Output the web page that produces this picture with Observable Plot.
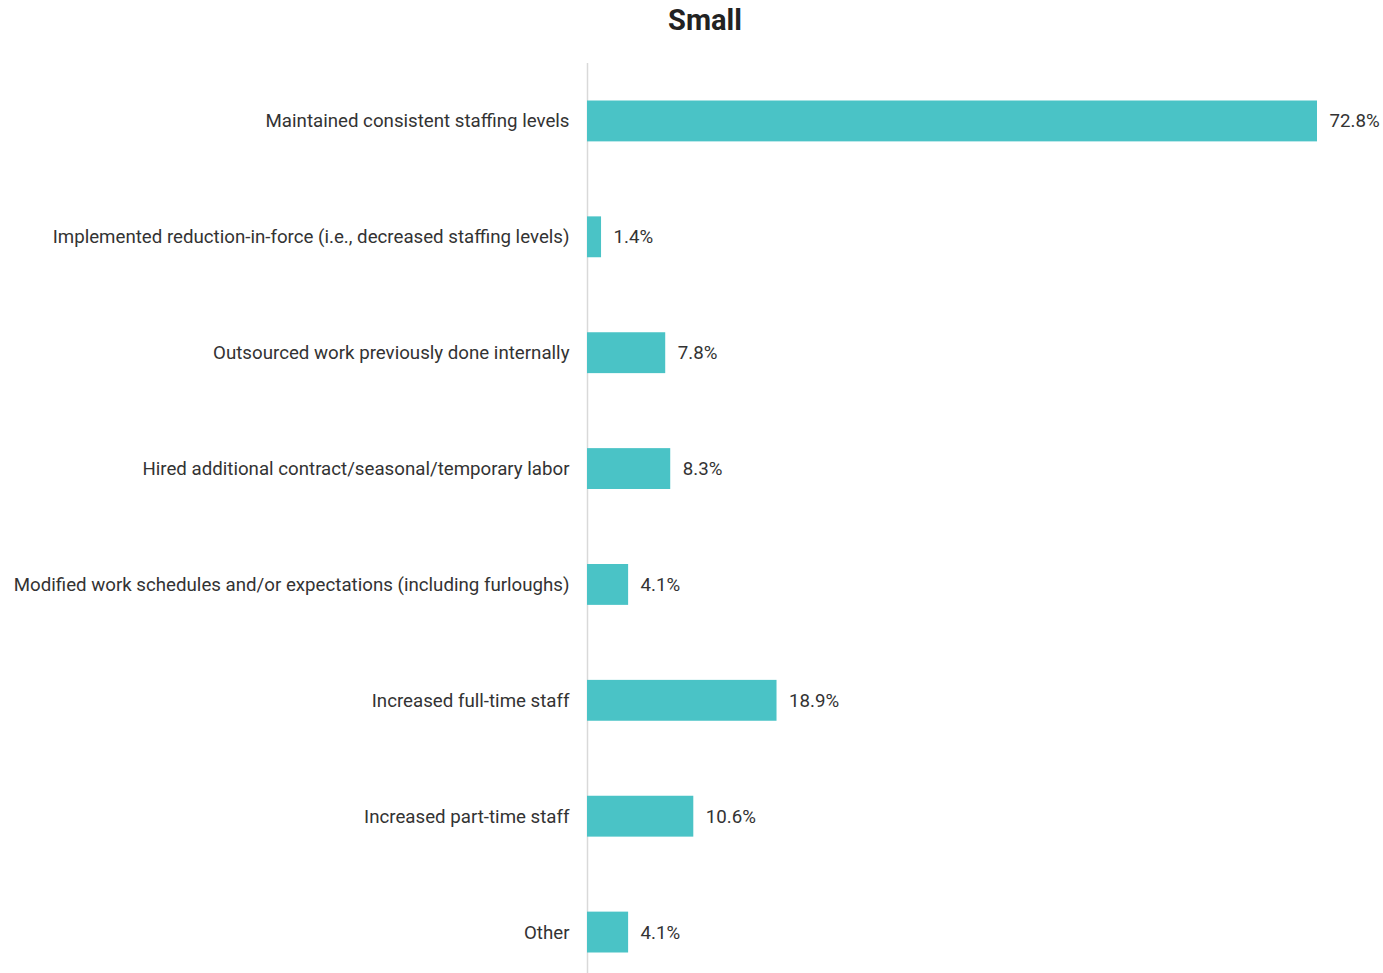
<!DOCTYPE html>
<html>
<head>
<meta charset="utf-8">
<script src="https://cdn.jsdelivr.net/npm/d3@7"></script>
<script src="https://cdn.jsdelivr.net/npm/@observablehq/plot@0.6"></script>
<style>
  html, body { margin: 0; padding: 0; background: #fff; overflow: hidden; }
  body { width: 1383px; font-family: Roboto, "Noto Sans", sans-serif; }
  #title { position: relative; height: 45px; }
  #title span { position: absolute; left: 705px; top: 2px; transform: translateX(-50%);
    font-size: 29px; font-weight: 700; color: #222; white-space: nowrap; line-height: 36px; }
  svg { display: block; }
</style>
</head>
<body>
<div id="title"><span>Small</span></div>
<div id="chart"></div>
<script>
const categories = [
  "Maintained consistent staffing levels",
  "Implemented reduction-in-force (i.e., decreased staffing levels)",
  "Outsourced work previously done internally",
  "Hired additional contract/seasonal/temporary labor",
  "Modified work schedules and/or expectations (including furloughs)",
  "Increased full-time staff",
  "Increased part-time staff",
  "Other"
];
const values = [72.8, 1.4, 7.8, 8.3, 4.1, 18.9, 10.6, 4.1];

const data = categories.map((c, i) => ({category: c, value: values[i]}));

const chart = Plot.plot({
  width: 1383,
  height: 945,
  marginLeft: 587,
  marginRight: 66,
  marginTop: 18,
  marginBottom: 0,
  style: {fontFamily: "Roboto, 'Noto Sans', sans-serif", background: "#fff", color: "#333", maxWidth: "none"},
  x: {domain: [0, 72.8], axis: null},
  y: {domain: categories, padding: 0, round: false, label: null},
  marks: [
    Plot.ruleX([0], {stroke: "#d9d9d9", strokeWidth: 1.5}),
    Plot.barX(data, {x: "value", y: "category", fill: "#4AC3C6", insetTop: 37.5, insetBottom: 37.5}),
    Plot.axisY({tickSize: 0, tickPadding: 18, fontSize: 18.7, fill: "#333", label: null}),
    Plot.text(data, {x: "value", y: "category", text: d => d.value.toFixed(1) + "%", dx: 12, textAnchor: "start", fontSize: 18.7, fill: "#333"})
  ]
});
document.getElementById("chart").appendChild(chart);
</script>
</body>
</html>
